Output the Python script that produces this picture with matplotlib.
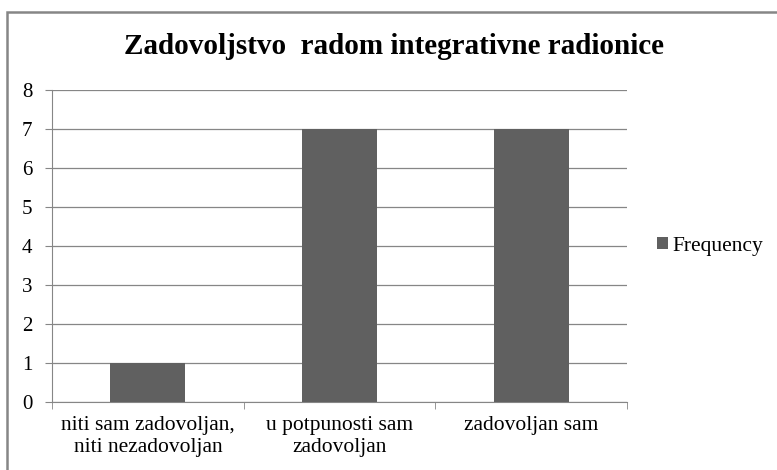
import matplotlib.pyplot as plt
from matplotlib.patches import Rectangle
import numpy as np

categories = ['niti sam zadovoljan,\nniti nezadovoljan', 'u potpunosti sam\nzadovoljan', 'zadovoljan sam']
frequency = [1, 7, 7]
yticks = [0, 1, 2, 3, 4, 5, 6, 7, 8]

plt.rcParams['font.family'] = ['Liberation Serif', 'DejaVu Serif']

fig = plt.figure(figsize=(7.77, 4.70), dpi=100)
# outer chart border (right and bottom edges run off the picture)
fig.patches.append(Rectangle((7 / 777, -0.05), 1.1, 1.05 - 12 / 470,
                             transform=fig.transFigure, fill=False, edgecolor='#868686', linewidth=1.8))

ax = fig.add_axes([52 / 777, 1 - 402 / 470, (627 - 52) / 777, (402 - 90) / 470])
x = np.arange(len(categories))
ax.bar(x, frequency, width=0.39, color='#606060', label='Frequency', zorder=3)

ax.set_xlim(-0.5, len(categories) - 0.5)
ax.set_ylim(0, 8)
ax.set_yticks(yticks)
ax.set_yticklabels([str(t) for t in yticks], fontsize=15)
ax.yaxis.grid(True, color='#868686', linewidth=0.9, zorder=0)

ax.set_xticks(x)
ax.set_xticklabels(categories, fontsize=15.5, linespacing=1.25)
ax.set_xticks(np.arange(-0.5, len(categories), 1.0), minor=True)
ax.tick_params(axis='x', which='major', length=0, pad=10)
ax.tick_params(axis='x', which='minor', length=5, color='#868686')
ax.tick_params(axis='y', length=5, color='#868686', pad=9)

for side in ['top', 'right']:
    ax.spines[side].set_visible(False)
ax.spines['left'].set_color('#868686')
ax.spines['bottom'].set_color('#868686')

fig.text((120 + 668) / 2 / 777, 1 - 46 / 470, 'Zadovoljstvo  radom integrativne radionice',
         ha='center', va='center', fontsize=21, fontweight='bold')

ax.legend(loc='center left', bbox_to_anchor=(1.0, 0.5), frameon=False, fontsize=15.5,
          handlelength=0.5, handleheight=0.5, handletextpad=0.2, borderaxespad=1.0)

fig.savefig('out.png', dpi=100)
